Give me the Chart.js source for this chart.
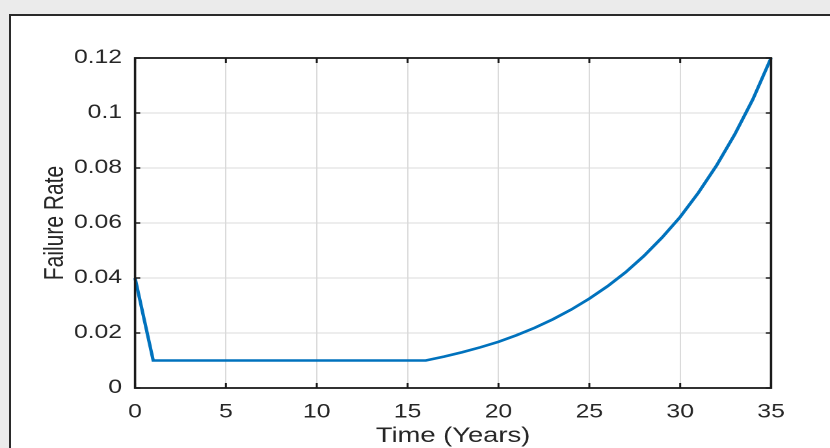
<!DOCTYPE html>
<html lang="en">
<head>
<meta charset="utf-8">
<title>Failure Rate</title>
<script src="https://cdn.jsdelivr.net/npm/chart.js"></script>
<style>
  body { margin: 0; background: #ebebeb; overflow: hidden; width: 830px; height: 448px; position: relative; }
  .panel { position: absolute; left: 9px; top: 14px; width: 900px; height: 500px; background: #fff;
           border-left: 2px solid #2a2a2a; border-top: 2px solid #2a2a2a; }
  /* the source figure is stretched sideways, so the chart is drawn narrower and scaled out */
  .wrap { position: absolute; left: 0; top: 0; width: 638px; height: 448px;
          transform: scaleX(1.3009); transform-origin: 0 0; }
</style>
</head>
<body>
<div class="panel"></div>
<div class="wrap"><canvas id="myChart" width="638" height="448"></canvas></div>
<script>
    // bathtub curve
    const years = [0, 1, 16, 17, 18, 19, 20, 21, 22, 23, 24, 25, 26, 27, 28, 29, 30, 31, 32, 33, 34, 35];
    const failureRate = [0.040, 0.010, 0.0100, 0.0114, 0.0130, 0.0148, 0.0168, 0.0192, 0.0219, 0.0250,
        0.0285, 0.0325, 0.0370, 0.0421, 0.0480, 0.0547, 0.0622, 0.0710, 0.0809, 0.0922, 0.1050, 0.1200];
    const xTicks = [0, 5, 10, 15, 20, 25, 30, 35];
    const yTicks = [0, 0.02, 0.04, 0.06, 0.08, 0.1, 0.12];

    const fontFamily = "'Liberation Sans', Arial, sans-serif";

    // matlab style box with small inward ticks
    const boxPlugin = {
        id: 'box',
        afterDatasetsDraw(chart) {
            const { ctx, chartArea: a, scales: { x, y } } = chart;
            ctx.save();
            ctx.strokeStyle = '#1a1a1a';
            ctx.lineWidth = 1.8;
            ctx.strokeRect(a.left, a.top, a.right - a.left, a.bottom - a.top);
            ctx.lineWidth = 1.5;
            ctx.beginPath();
            xTicks.forEach(v => {
                let px = x.getPixelForValue(v);
                ctx.moveTo(px, a.bottom); ctx.lineTo(px, a.bottom - 5);
                ctx.moveTo(px, a.top); ctx.lineTo(px, a.top + 5);
            });
            yTicks.forEach(v => {
                let py = y.getPixelForValue(v);
                ctx.moveTo(a.left, py); ctx.lineTo(a.left + 4, py);
                ctx.moveTo(a.right, py); ctx.lineTo(a.right - 4, py);
            });
            ctx.stroke();
            ctx.restore();
        }
    };

    let dataobj = {
        type: 'line',
        data: {
            datasets: [{
                label: 'Failure Rate',
                data: years.map((t, i) => ({ x: t, y: failureRate[i] })),
                borderColor: '#0072BD',
                borderWidth: 2.6,
                pointRadius: 0,
                fill: false,
                tension: 0,
                clip: false
            }]
        },
        options: {
            responsive: false,
            animation: false,
            devicePixelRatio: 2,
            layout: { padding: { left: 30, right: 45.3, top: 58, bottom: 0 } },
            plugins: { legend: { display: false }, tooltip: { enabled: false } },
            scales: {
                x: {
                    type: 'linear',
                    min: 0,
                    max: 35,
                    afterBuildTicks: s => { s.ticks = xTicks.map(v => ({ value: v })); },
                    afterFit: s => { s.height = 60; },
                    grid: { color: '#dadada', lineWidth: 1, drawTicks: false },
                    border: { display: false },
                    ticks: { color: '#262626', padding: 13, maxRotation: 0, font: { family: fontFamily, size: 19 } },
                    title: {
                        display: true, text: 'Time (Years)', color: '#262626',
                        padding: { top: 0, bottom: -1 },
                        font: { family: fontFamily, size: 21 }
                    }
                },
                y: {
                    type: 'linear',
                    min: 0,
                    max: 0.12,
                    afterBuildTicks: s => { s.ticks = yTicks.map(v => ({ value: v })); },
                    afterFit: s => { s.width = 73.8; },
                    grid: { color: '#dadada', lineWidth: 1, drawTicks: false },
                    border: { display: false },
                    ticks: {
                        color: '#262626', padding: 10,
                        font: { family: fontFamily, size: 19 },
                        callback: v => String(+v.toFixed(2))
                    },
                    title: {
                        display: true, text: 'Failure Rate', color: '#262626',
                        padding: { top: 0, bottom: 0 },
                        font: { family: fontFamily, size: 21 }
                    }
                }
            }
        },
        plugins: [boxPlugin]
    };

    var ctx = document.getElementById('myChart').getContext('2d');
    window.myLine = new Chart(ctx, dataobj);
</script>
</body>
</html>
